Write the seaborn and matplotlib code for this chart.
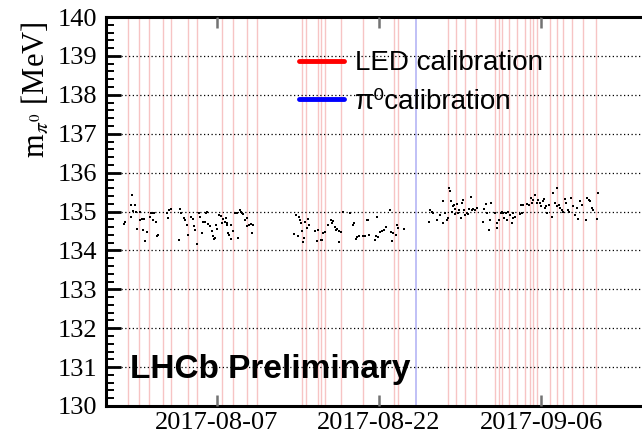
import numpy as np
import pandas as pd
import matplotlib
matplotlib.use("Agg")
import matplotlib.pyplot as plt
import matplotlib.dates as mdates
from matplotlib.lines import Line2D
from matplotlib.ticker import MultipleLocator
import seaborn as sns

# reference date for all offsets below
ref_date = pd.Timestamp("2017-08-07")

# measured pi0 mass per run: offset in days from ref_date, mass in MeV
run_days = [
    -8.61, -8.52, -7.99, -7.87, -7.96, -7.56, -7.75, -7.53, -7.44, -7.10, -7.16, -6.98,
    -6.79, -6.82, -6.67, -6.51, -6.20, -6.14, -5.96, -5.83, -5.90, -5.68, -5.56, -5.43,
    -4.66, -4.54, -4.41, -4.29, -3.49, -3.43, -3.30, -3.06, -2.93, -2.81, -2.65, -2.38,
    -2.25, -2.13, -2.04, -1.82, -1.70, -1.57, -1.42, -1.27, -1.11, -1.02, -0.90, -0.80,
    -0.65, -0.49, -0.34, -0.28, -0.19, -0.09, 0.03, 0.19, 0.34, 0.43, 0.59, 0.74,
    0.83, 0.90, 0.96, 1.05, 1.14, 1.27, 1.33, 1.45, 1.70, 1.82, 1.91, 2.13,
    2.22, 2.31, 2.44, 2.62, 2.75, 2.81, 2.96, 3.12, 3.21, 3.30,
    7.13, 7.31, 7.53, 7.62, 7.69, 7.81, 7.87, 7.99, 8.06, 8.18, 8.30, 8.46,
    8.55, 9.07, 9.23, 9.38, 9.60, 9.72, 9.85, 10.00, 10.31, 10.52, 10.65, 10.77,
    10.93, 11.02, 11.14, 11.27, 11.33, 11.45, 11.70, 12.31, 12.62, 12.72, 12.87, 12.99,
    13.18, 13.55, 13.70, 13.86, 14.01, 14.10, 14.63, 14.72, 14.85, 14.94, 15.09, 15.25,
    15.46, 15.65, 16.02, 16.08, 16.20, 16.33, 16.57, 16.64, 16.79, 17.31,
    19.66, 19.72, 19.88, 20.03, 20.40, 20.65, 20.90, 20.96, 21.11, 21.27, 21.36, 21.48,
    21.57, 21.70, 21.73, 21.82, 21.94, 22.00, 22.07, 22.19, 22.28, 22.44, 22.56, 22.65,
    22.75, 22.87, 23.00, 23.12, 23.27, 23.36, 23.49, 23.58, 23.73, 23.89, 24.04, 24.60,
    24.72, 24.91, 25.03, 25.22, 25.28, 25.40, 25.74, 25.90, 25.96, 26.14, 26.27, 26.39,
    26.51, 26.57, 26.76, 26.88, 26.98, 27.13, 27.28, 27.38, 27.44, 27.59, 28.06, 28.12,
    28.21, 28.37, 28.67, 28.92, 29.04, 29.14, 29.29, 29.48, 29.60, 29.75, 29.91, 30.03,
    30.15, 30.28, 30.37, 30.46, 30.59, 30.71, 30.99, 31.14, 31.30, 31.45, 31.51, 31.64,
    31.76, 31.91, 32.07, 32.22, 32.31, 32.53, 32.62, 32.75, 32.93, 33.15, 33.30, 33.46,
    33.61, 33.77, 34.17, 34.29, 34.41, 34.54, 34.69, 34.78, 35.15, 35.31,
]
run_mass = [
    134.68, 134.73, 134.85, 135.43, 135.17, 135.17, 135.02, 135.00, 134.55, 135.00, 134.79, 134.80,
    134.81, 134.53, 134.25, 134.47, 134.87, 134.96, 134.97, 134.96, 134.79, 134.72, 134.36, 134.40,
    134.96, 134.83, 135.03, 135.06, 134.27, 135.06, 134.97, 134.83, 134.77, 134.66, 134.39, 134.87,
    134.80, 134.63, 134.53, 134.17, 134.96, 134.87, 134.44, 134.72, 134.72, 134.97, 135.00, 134.68,
    134.62, 134.50, 134.36, 134.30, 134.33, 134.66, 134.55, 134.91, 134.89, 134.70, 134.80, 134.74,
    134.83, 134.70, 134.66, 134.46, 134.40, 134.66, 134.29, 134.49, 134.96, 134.97, 134.32, 135.04,
    135.00, 134.97, 134.93, 134.79, 134.83, 134.63, 134.66, 134.68, 134.44, 134.66,
    134.43, 134.90, 134.36, 134.87, 134.79, 134.70, 134.50, 134.21, 134.32, 134.74, 134.57, 134.80,
    134.66, 134.49, 134.23, 134.53, 134.26, 134.28, 134.45, 134.48, 134.65, 134.78, 134.70, 134.76,
    134.61, 134.52, 134.54, 134.22, 134.50, 134.48, 135.00, 134.97, 134.65, 134.70, 134.30, 134.35,
    134.37, 134.37, 134.38, 134.78, 134.78, 134.39, 134.26, 134.37, 134.87, 134.35, 134.48, 134.50,
    134.52, 134.61, 135.03, 134.48, 134.23, 134.45, 134.39, 134.65, 134.57, 134.54,
    134.74, 135.04, 135.00, 134.96, 134.78, 134.91, 134.70, 135.26, 134.97, 134.78, 134.83, 135.61,
    135.52, 135.26, 135.00, 135.13, 135.17, 134.94, 135.06, 135.20, 134.96, 135.04, 134.83, 135.23,
    135.30, 135.04, 134.91, 134.97, 134.94, 135.06, 135.37, 135.03, 135.06, 135.04, 135.09, 134.74,
    135.06, 135.20, 134.96, 134.52, 134.78, 135.23, 134.96, 134.70, 134.57, 134.78, 134.97, 135.00,
    134.96, 134.83, 134.97, 134.78, 135.00, 134.91, 134.70, 134.83, 134.96, 134.87, 134.94, 135.17,
    134.97, 135.17, 135.20, 135.17, 135.35, 135.23, 135.29, 135.43, 135.22, 135.29, 135.23, 135.13,
    135.26, 135.32, 135.09, 135.13, 134.96, 135.17, 134.87, 135.48, 135.22, 135.61, 135.13, 135.17,
    135.09, 135.04, 135.00, 135.32, 135.22, 135.04, 135.00, 135.35, 135.13, 134.91, 135.09, 134.80,
    135.26, 135.17, 134.77, 135.35, 135.30, 135.26, 135.09, 135.04, 134.80, 135.48,
]

# calibration times, days from ref_date
led_days = [
    -8.24, -7.22, -6.30, -5.00, -4.26, -2.69, -1.85, 0.46, 1.48, 2.78, 3.70, 7.87,
    8.24, 9.35, 9.63, 10.00, 11.48, 13.52, 16.39, 16.76, 21.39, 22.13, 22.96, 23.98,
    25.74, 26.11, 26.39, 27.04, 27.78, 28.52, 28.98, 29.26, 29.63, 30.83, 31.48, 32.04,
    32.87, 33.89, 35.09,
]
pi0_days = [18.43]

tick_dates = ["2017-08-07", "2017-08-22", "2017-09-06"]
x_range_days = [-10.28, 39.35]


def to_date(days):
    return ref_date + pd.to_timedelta(np.asarray(days), unit="D")


df = pd.DataFrame({"date": to_date(run_days), "mass": run_mass})

sns.set_style("ticks")
plt.rcParams["font.family"] = ["Liberation Serif", "DejaVu Serif"]
plt.rcParams["mathtext.fontset"] = "stix"
plt.rcParams["text.color"] = "black"

fig = plt.figure(figsize=(6.42, 4.37), dpi=100)
ax = fig.add_axes([0.165, 0.071, 0.835, 0.890])

for d in to_date(led_days):
    ln = ax.axvline(d, color="#f7c4c4", lw=1.0, zorder=1)
    ln.set_snap(True)
for d in to_date(pi0_days):
    ln = ax.axvline(d, color="#c0c0f6", lw=1.4, zorder=1)
    ln.set_snap(True)

sns.scatterplot(data=df, x="date", y="mass", ax=ax, color="black", marker="s",
                s=3.5, linewidth=0, zorder=4)

ax.set_ylim(130, 140)
ax.set_xlim(to_date(x_range_days))
ax.yaxis.set_major_locator(MultipleLocator(1))
ax.yaxis.set_minor_locator(MultipleLocator(0.2))
ax.yaxis.grid(True, which="major", color="black", linestyle=(0, (1, 2)), lw=0.9, zorder=2)
ax.set_axisbelow(False)

ax.set_xticks(pd.to_datetime(tick_dates))
ax.xaxis.set_major_formatter(mdates.DateFormatter("%Y-%m-%d"))

ax.tick_params(axis="y", which="major", direction="in", length=11, width=2,
               labelsize=19, pad=6, colors="black")
ax.tick_params(axis="y", which="minor", direction="in", length=6, width=1.4, left=True,
               colors="black")
ax.tick_params(axis="x", which="major", direction="in", length=8, width=1.8,
               color="0.45", labelcolor="black", labelsize=19, pad=4, top=True)
ax.tick_params(axis="x", which="minor", bottom=False, top=False)

for side in ["left", "bottom", "top"]:
    ax.spines[side].set_linewidth(2.2)
    ax.spines[side].set_color("black")
ax.spines["right"].set_visible(False)

ax.set_xlabel("")
ax.set_ylabel("")
fig.text(0.055, 0.795, r"m$_{\pi^0}$ [MeV]", rotation=90, ha="center", va="center",
         fontsize=22, color="black")

handles = [Line2D([0], [0], color="#ff0000", lw=3.5),
           Line2D([0], [0], color="#0000ff", lw=3.5)]
leg = ax.legend(handles, ["LED calibration", "π⁰calibration"], loc="upper left",
                bbox_to_anchor=(0.335, 0.95), frameon=False, handlelength=1.6,
                handletextpad=0.4, labelspacing=0.45, borderpad=0,
                prop={"family": ["Liberation Sans", "DejaVu Sans"], "size": 20})
for t in leg.get_texts():
    t.set_color("black")

ax.text(0.045, 0.072, "LHCb Preliminary", transform=ax.transAxes, ha="left",
        va="baseline", fontsize=24, fontweight="bold", color="black",
        family=["Liberation Sans", "DejaVu Sans"], zorder=5)

fig.savefig("out.png", dpi=100)
